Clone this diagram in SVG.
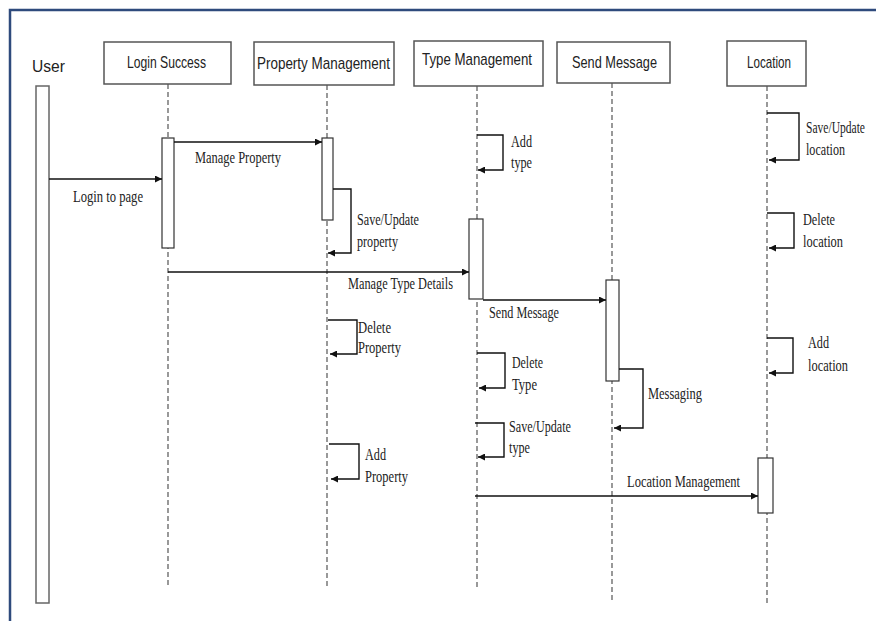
<svg xmlns="http://www.w3.org/2000/svg" width="876" height="621" viewBox="0 0 876 621">
<style>
.frame{stroke:#2E4A7C;stroke-width:2.5;fill:none}
.box{fill:#fff;stroke:#555;stroke-width:1.5}
.act{fill:#fff;stroke:#333;stroke-width:1.2}
.life{stroke:#555;stroke-width:1.2;stroke-dasharray:5 3;fill:none}
.msg{stroke:#111;stroke-width:1.4;fill:none;marker-end:url(#ah)}
.hd{font-family:"Liberation Sans",Arial,sans-serif;font-size:17px;fill:#222}
.lb{font-family:"Liberation Serif","Times New Roman",serif;font-size:17px;fill:#222}
</style>
<defs>
<marker id="ah" viewBox="0 0 10 10" refX="10" refY="5" markerWidth="7" markerHeight="7" markerUnits="userSpaceOnUse" orient="auto">
<path d="M0 0 L10 5 L0 10 z" fill="#111"/>
</marker>
</defs>
<rect width="876" height="621" fill="#fff"/>
<path class="frame" d="M10 621 V10 H876"/>

<g id="user">
<text class="hd" x="32" y="72" font-size="21" textLength="33" lengthAdjust="spacingAndGlyphs">User</text>
<rect class="box" x="36" y="86" width="13" height="517" style="stroke:#666"/>
</g>
<g id="login-success">
<rect class="box" x="104" y="42" width="127" height="42"/>
<text class="hd" x="127" y="68" textLength="79" lengthAdjust="spacingAndGlyphs">Login Success</text>
<line class="life" x1="168" y1="84" x2="168" y2="587"/>
<rect class="act" x="162" y="138" width="12" height="110"/>
</g>
<g id="property-management">
<rect class="box" x="254" y="42" width="140" height="43"/>
<text class="hd" x="257" y="69" textLength="133" lengthAdjust="spacingAndGlyphs">Property Management</text>
<line class="life" x1="327" y1="85" x2="327" y2="588"/>
<rect class="act" x="322" y="138" width="11" height="82"/>
</g>
<g id="type-management">
<rect class="box" x="414" y="41" width="129" height="45"/>
<text class="hd" x="422" y="65" textLength="110" lengthAdjust="spacingAndGlyphs">Type Management</text>
<line class="life" x1="477" y1="86" x2="477" y2="590"/>
<rect class="act" x="469" y="219" width="14" height="80"/>
</g>
<g id="send-message">
<rect class="box" x="557" y="42" width="113" height="41"/>
<text class="hd" x="572" y="68" textLength="85" lengthAdjust="spacingAndGlyphs">Send Message</text>
<line class="life" x1="612" y1="83" x2="612" y2="603"/>
<rect class="act" x="606" y="280" width="13" height="101"/>
</g>
<g id="location">
<rect class="box" x="727" y="41" width="79" height="45"/>
<text class="hd" x="747" y="68" textLength="44" lengthAdjust="spacingAndGlyphs">Location</text>
<line class="life" x1="767" y1="86" x2="767" y2="603"/>
<rect class="act" x="758" y="458" width="15" height="55"/>
</g>

<g id="connectors">
<path class="msg" d="M49 179 H162"/>
<text class="lb" x="73" y="202" textLength="70" lengthAdjust="spacingAndGlyphs">Login to page</text>
<path class="msg" d="M174 142 H322"/>
<text class="lb" x="195" y="163" textLength="86" lengthAdjust="spacingAndGlyphs">Manage Property</text>
<path class="msg" d="M333 189 H351 V253 H328"/>
<text class="lb" x="357" y="225" textLength="62" lengthAdjust="spacingAndGlyphs">Save/Update</text>
<text class="lb" x="357" y="247" textLength="41" lengthAdjust="spacingAndGlyphs">property</text>
<path class="msg" d="M477 135 H503 V170 H478"/>
<text class="lb" x="511" y="147" textLength="21" lengthAdjust="spacingAndGlyphs">Add</text>
<text class="lb" x="511" y="168" textLength="21" lengthAdjust="spacingAndGlyphs">type</text>
<path class="msg" d="M168 272 H469"/>
<text class="lb" x="348" y="289" textLength="105" lengthAdjust="spacingAndGlyphs">Manage Type Details</text>
<path class="msg" d="M483 300 H606"/>
<text class="lb" x="489" y="318" textLength="70" lengthAdjust="spacingAndGlyphs">Send Message</text>
<path class="msg" d="M328 320 H357 V354 H330"/>
<text class="lb" x="358" y="333" textLength="33" lengthAdjust="spacingAndGlyphs">Delete</text>
<text class="lb" x="358" y="353" textLength="43" lengthAdjust="spacingAndGlyphs">Property</text>
<path class="msg" d="M477 353 H505 V388 H479"/>
<text class="lb" x="512" y="368" textLength="31" lengthAdjust="spacingAndGlyphs">Delete</text>
<text class="lb" x="512" y="390" textLength="25" lengthAdjust="spacingAndGlyphs">Type</text>
<path class="msg" d="M619 369 H643 V428 H614"/>
<text class="lb" x="648" y="399" textLength="54" lengthAdjust="spacingAndGlyphs">Messaging</text>
<path class="msg" d="M475 423 H504 V457 H478"/>
<text class="lb" x="509" y="432" textLength="62" lengthAdjust="spacingAndGlyphs">Save/Update</text>
<text class="lb" x="509" y="453" textLength="21" lengthAdjust="spacingAndGlyphs">type</text>
<path class="msg" d="M329 444 H359 V479 H331"/>
<text class="lb" x="365" y="460" textLength="21" lengthAdjust="spacingAndGlyphs">Add</text>
<text class="lb" x="365" y="482" textLength="43" lengthAdjust="spacingAndGlyphs">Property</text>
<path class="msg" d="M475 496 H758"/>
<text class="lb" x="627" y="487" textLength="113" lengthAdjust="spacingAndGlyphs">Location Management</text>
<path class="msg" d="M767 113 H799 V160 H769"/>
<text class="lb" x="806" y="133" textLength="59" lengthAdjust="spacingAndGlyphs">Save/Update</text>
<text class="lb" x="806" y="155" textLength="39" lengthAdjust="spacingAndGlyphs">location</text>
<path class="msg" d="M767 213 H794 V248 H769"/>
<text class="lb" x="803" y="225" textLength="32" lengthAdjust="spacingAndGlyphs">Delete</text>
<text class="lb" x="803" y="247" textLength="40" lengthAdjust="spacingAndGlyphs">location</text>
<path class="msg" d="M767 338 H793 V373 H769"/>
<text class="lb" x="808" y="348" textLength="21" lengthAdjust="spacingAndGlyphs">Add</text>
<text class="lb" x="808" y="371" textLength="40" lengthAdjust="spacingAndGlyphs">location</text>
</g>
</svg>
